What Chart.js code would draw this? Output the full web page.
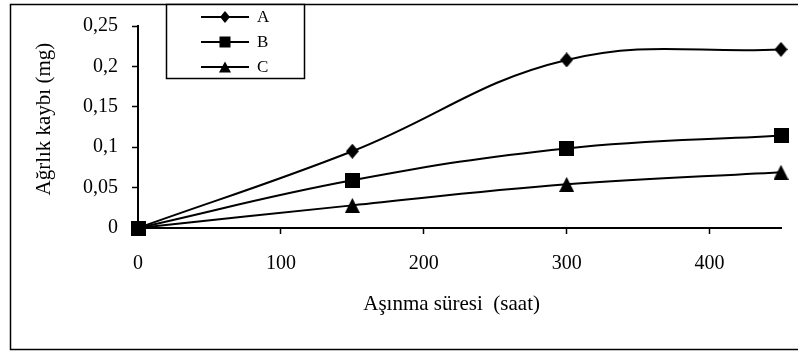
<!DOCTYPE html>
<html lang="tr">
<head>
<meta charset="UTF-8">
<title>Ağırlık kaybı</title>
<script src="https://cdn.jsdelivr.net/npm/chart.js"></script>
<style>
    html, body { margin: 0; padding: 0; background: #fff; }
    .chart-container { position: relative; width: 798px; height: 351px; }
</style>
</head>
<body>
<div class="chart-container"><canvas id="wearChart" width="798" height="351"></canvas></div>
<script>
    // wear time (hours) and weight loss (mg) per sample
    const hours = [0, 150, 300, 450];
    const lossA = [0, 0.095, 0.208, 0.221];
    const lossB = [0, 0.059, 0.0985, 0.1145];
    const lossC = [0, 0.028, 0.054, 0.069];
    const seriesNames = ['A', 'B', 'C'];
    const xTickValues = [0, 100, 200, 300, 400];
    const xTickLabels = ['0', '100', '200', '300', '400'];
    const yTickValues = [0, 0.05, 0.1, 0.15, 0.2, 0.25];
    const yTickLabels = ['0', '0,05', '0,1', '0,15', '0,2', '0,25'];

    const serif = 'Liberation Serif, "Times New Roman", serif';

    // draw a filled marker shape into a w x h box
    function shapePath(c, kind, x, y, w, h) {
        c.beginPath();
        if (kind === 'diamond') {
            c.moveTo(x + w / 2, y); c.lineTo(x + w, y + h / 2);
            c.lineTo(x + w / 2, y + h); c.lineTo(x, y + h / 2);
        } else if (kind === 'square') {
            c.rect(x, y, w, h);
        } else {
            c.moveTo(x + w / 2, y); c.lineTo(x + w, y + h); c.lineTo(x, y + h);
        }
        c.closePath();
        c.fillStyle = '#000';
        c.fill();
    }

    function markerImage(kind, w, h) {
        const cv = document.createElement('canvas');
        cv.width = w;
        cv.height = h;
        shapePath(cv.getContext('2d'), kind, 0, 0, w, h);
        return cv;
    }

    const markerKinds = ['diamond', 'square', 'triangle'];
    const markerImages = [
        markerImage('diamond', 13, 15),
        markerImage('square', 15, 15),
        markerImage('triangle', 15, 15)
    ];

    function toPoints(ys) {
        return hours.map((h, i) => ({ x: h, y: ys[i] }));
    }

    const datasets = [lossA, lossB, lossC].map((ys, i) => ({
        label: seriesNames[i],
        data: toPoints(ys),
        borderColor: '#000',
        backgroundColor: '#000',
        borderWidth: 2,
        pointStyle: markerImages[i],
        pointRadius: 7,
        pointHoverRadius: 7,
        tension: 0.4,
        clip: false,
        order: i === 1 ? 0 : i + 1
    }));

    // frame around the whole figure
    const framePlugin = {
        id: 'frame',
        beforeDraw(chart) {
            const c = chart.ctx;
            c.save();
            c.fillStyle = '#fff';
            c.fillRect(0, 0, chart.width, chart.height);
            c.strokeStyle = '#000';
            c.lineWidth = 1.5;
            c.strokeRect(10.5, 4.5, chart.width, 345);
            c.restore();
        }
    };

    // Excel style boxed legend in the top left corner
    const legendPlugin = {
        id: 'boxLegend',
        afterDraw(chart) {
            const c = chart.ctx;
            const rows = [17, 42, 67];
            const sizes = [[10, 12], [11, 11], [12, 11]];
            c.save();
            c.fillStyle = '#fff';
            c.fillRect(166, 4, 138, 74);
            c.strokeStyle = '#000';
            c.lineWidth = 1.5;
            c.strokeRect(166.5, 4.5, 138, 74);
            c.font = '17px ' + serif;
            c.textBaseline = 'middle';
            chart.data.datasets.forEach((ds, i) => {
                const y = rows[i];
                const [w, h] = sizes[i];
                c.strokeStyle = '#000';
                c.lineWidth = 2;
                c.beginPath();
                c.moveTo(201, y);
                c.lineTo(249, y);
                c.stroke();
                shapePath(c, markerKinds[i], 225 - w / 2, y - h / 2, w, h);
                c.fillText(ds.label, 257, y + 1);
            });
            c.restore();
        }
    };

    const ctx = document.getElementById('wearChart').getContext('2d');
    new Chart(ctx, {
        type: 'line',
        data: { datasets },
        plugins: [framePlugin, legendPlugin],
        options: {
            responsive: false,
            animation: false,
            events: [],
            layout: { padding: { left: 0, top: 25, right: 17, bottom: 0 } },
            plugins: { legend: { display: false }, tooltip: { enabled: false } },
            scales: {
                x: {
                    type: 'linear',
                    min: 0,
                    max: 450,
                    afterBuildTicks: s => { s.ticks = xTickValues.map(v => ({ value: v })); },
                    afterFit: s => { s.height = 123; },
                    border: { color: '#000', width: 2 },
                    grid: { drawOnChartArea: false, color: '#000', tickLength: 6, tickWidth: 1.5 },
                    ticks: {
                        color: '#000',
                        padding: 18,
                        maxRotation: 0,
                        font: { family: serif, size: 20 },
                        callback: (v, i) => xTickLabels[i]
                    },
                    title: {
                        display: true,
                        text: 'Aşınma süresi  (saat)   ',
                        color: '#000',
                        font: { family: serif, size: 21 },
                        padding: { top: 0, bottom: 34 }
                    }
                },
                y: {
                    min: 0,
                    max: 0.25,
                    afterBuildTicks: s => { s.ticks = yTickValues.map(v => ({ value: v })); },
                    afterFit: s => { s.width = 138; },
                    border: { color: '#000', width: 2 },
                    grid: { drawOnChartArea: false, color: '#000', tickLength: 6, tickWidth: 1.5 },
                    ticks: {
                        color: '#000',
                        padding: 14,
                        font: { family: serif, size: 20 },
                        callback: (v, i) => yTickLabels[i]
                    },
                    title: {
                        display: true,
                        text: '   Ağrlık kaybı (mg)',
                        color: '#000',
                        font: { family: serif, size: 21 },
                        padding: { top: 32, bottom: 0 }
                    }
                }
            }
        }
    });
</script>
</body>
</html>
